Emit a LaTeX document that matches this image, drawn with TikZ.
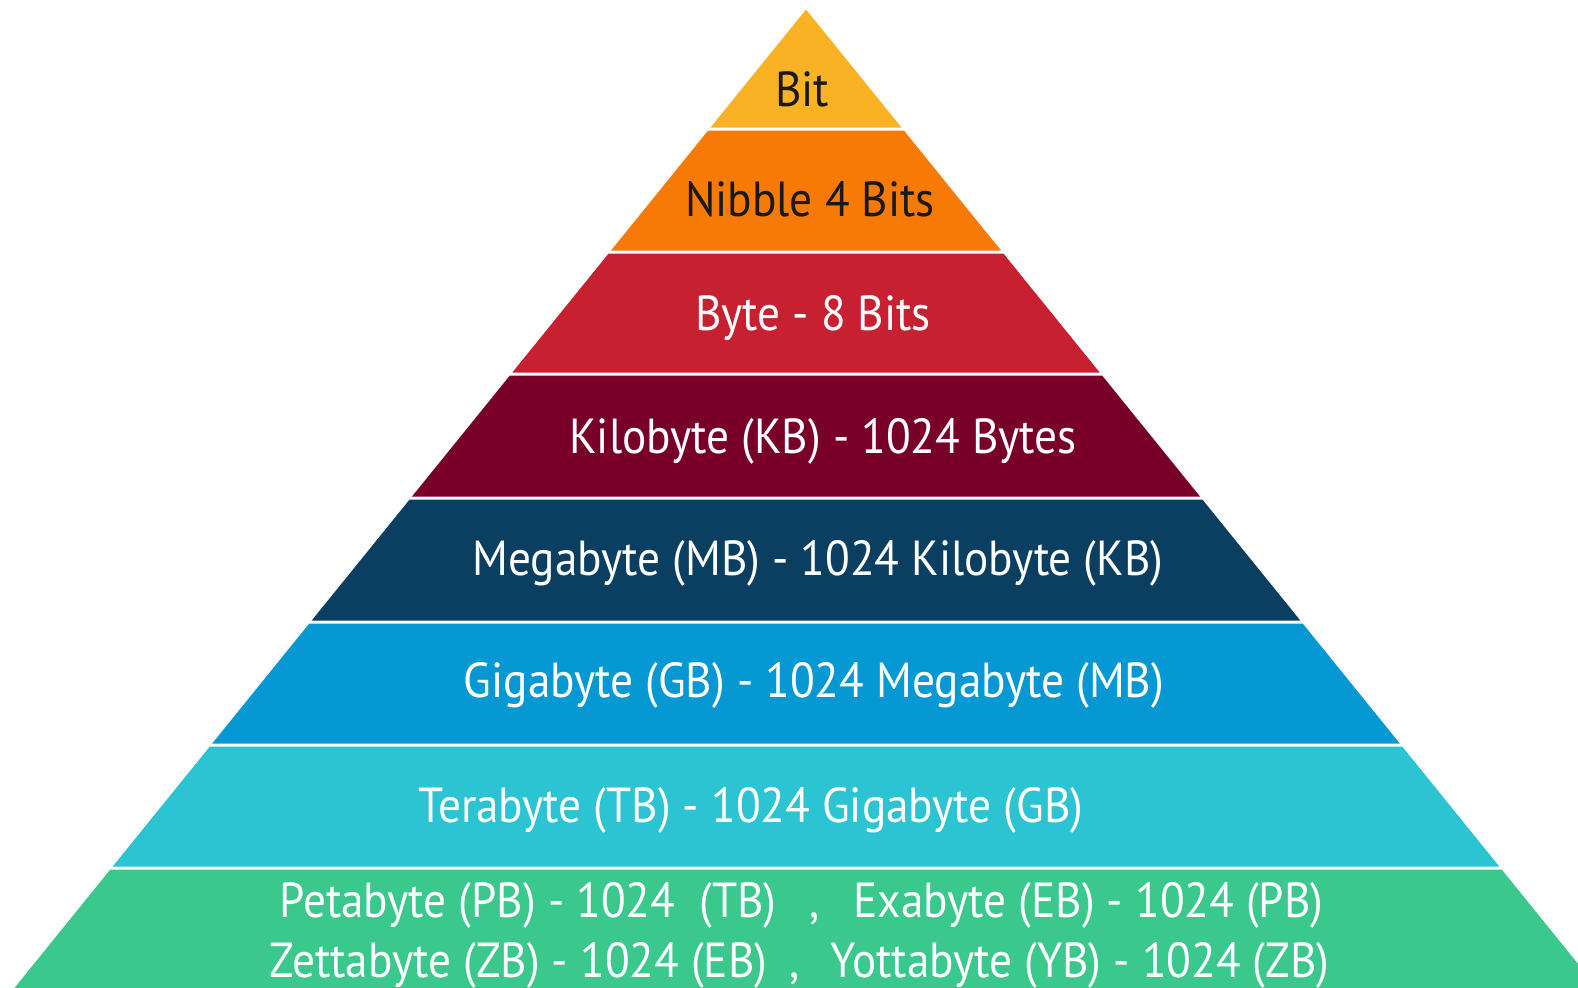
\documentclass[tikz,border=0pt]{standalone}
\usepackage{fontspec}
\setmainfont[FakeStretch=0.92]{PT Sans}
\usepackage{tikz}
\usetikzlibrary{positioning}

\definecolor{bitcol}{HTML}{F9B224}
\definecolor{nibcol}{HTML}{F77A06}
\definecolor{bytecol}{HTML}{C72131}
\definecolor{kbcol}{HTML}{780028}
\definecolor{mbcol}{HTML}{0B3F61}
\definecolor{gbcol}{HTML}{0598D2}
\definecolor{tbcol}{HTML}{2CC4D2}
\definecolor{pbcol}{HTML}{3AC88C}

\begin{document}
\begin{tikzpicture}[x=0.01cm, y=-0.01cm,
    band/.style={draw=none},
    lbl/.style={inner sep=0pt, anchor=base, text=white, font=\fontsize{14pt}{16pt}\selectfont},
    dark/.style={text=black!90}]

    \useasboundingbox (0,0) rectangle (1578,987);
    \clip (0,0) rectangle (1578,987);

    % pyramid bands, top to bottom
    \fill[band, bitcol]  (806,9.5) -- (901.5,127.5) -- (710.5,127.5) -- cycle;
    \fill[band, nibcol]  (708.1,130.5) -- (903.9,130.5) -- (1001,250.5) -- (611,250.5) -- cycle;
    \fill[band, bytecol] (608.6,253.5) -- (1003.4,253.5) -- (1099.7,372.5) -- (512.3,372.5) -- cycle;
    \fill[band, kbcol]   (509.9,375.5) -- (1102.1,375.5) -- (1200,496.5) -- (412,496.5) -- cycle;
    \fill[band, mbcol]   (409.6,499.5) -- (1202.4,499.5) -- (1300.3,620.5) -- (311.7,620.5) -- cycle;
    \fill[band, gbcol]   (309.3,623.5) -- (1302.7,623.5) -- (1399.8,743.5) -- (212.2,743.5) -- cycle;
    \fill[band, tbcol]   (209.8,746.5) -- (1402.2,746.5) -- (1499.3,866.5) -- (112.7,866.5) -- cycle;
    \fill[band, pbcol]   (110.3,869.5) -- (1501.7,869.5) -- (1607.3,1000) -- (4.7,1000) -- cycle;

    \node[lbl, dark] (bit) at (802,106) {Bit};
    \node[lbl, dark] (nibble) at (810,216) {Nibble 4 Bits};
    \node[lbl] (byte) at (813,330) {Byte - 8 Bits};
    \node[lbl] (kb) at (823,453) {Kilobyte (KB) - 1024 Bytes};
    \node[lbl] (mb) at (818,575) {Megabyte (MB) - 1024 Kilobyte (KB)};
    \node[lbl] (gb) at (814,697) {Gigabyte (GB) - 1024 Megabyte (MB)};
    \node[lbl] (tb) at (751,822) {Terabyte (TB) - 1024 Gigabyte (GB)};

    \node[lbl] (pbcomma) at (815,917) {,};
    \node[lbl, anchor=base east] (pb) at (777,917) {Petabyte (PB) - 1024~~(TB)};
    \node[lbl, anchor=base west] (eb) at (853,917) {Exabyte (EB) - 1024 (PB)};

    \node[lbl] (zbcomma) at (795,977) {,};
    \node[lbl, anchor=base east] (zb) at (768,977) {Zettabyte (ZB) - 1024 (EB)};
    \node[lbl, anchor=base west] (yb) at (830,977) {Yottabyte (YB) - 1024 (ZB)};

\end{tikzpicture}
\end{document}
